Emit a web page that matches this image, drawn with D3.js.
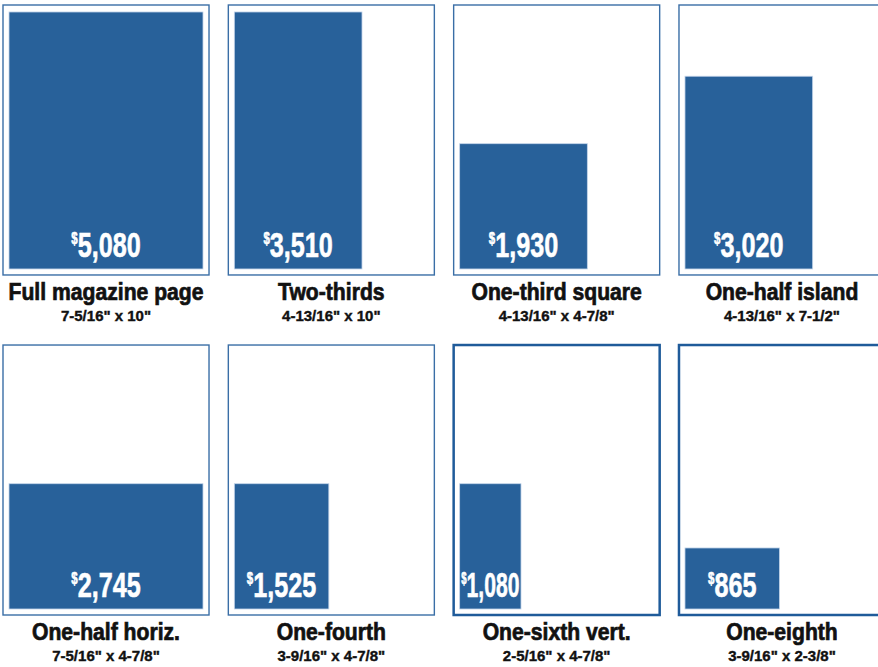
<!DOCTYPE html>
<html>
<head>
<meta charset="utf-8">
<script src="https://cdn.jsdelivr.net/npm/d3@7"></script>
<style>
  html, body { margin: 0; padding: 0; background: #fff; }
  svg { display: block; }
  .title, .dim { font-family: "Liberation Sans", Arial, sans-serif; font-weight: bold; fill: #111; stroke: #111; }
  .title { stroke-width: 0.7px; }
  .dim { stroke-width: 0.4px; }
  .price { font-family: "Liberation Sans", Arial, sans-serif; font-weight: bold; fill: #fff; stroke: #fff; stroke-width: 0.6px; }
</style>
</head>
<body>
<svg id="chart" width="878" height="667"></svg>
<script>
(function () {
  "use strict";

  // ad sizes, in reading order
  var names = ["Full magazine page", "Two-thirds", "One-third square", "One-half island",
               "One-half horiz.", "One-fourth", "One-sixth vert.", "One-eighth"];
  var dims = ["7-5/16\" x 10\"", "4-13/16\" x 10\"", "4-13/16\" x 4-7/8\"", "4-13/16\" x 7-1/2\"",
              "7-5/16\" x 4-7/8\"", "3-9/16\" x 4-7/8\"", "2-5/16\" x 4-7/8\"", "3-9/16\" x 2-3/8\""];
  var widths = [7.3125, 4.8125, 4.8125, 4.8125, 7.3125, 3.5625, 2.3125, 3.5625];   // inches
  var heights = [10, 10, 4.875, 7.5, 4.875, 4.875, 4.875, 2.375];                   // inches
  var prices = [5080, 3510, 1930, 3020, 2745, 1525, 1080, 865];
  var heavyFrame = [false, false, false, false, false, false, true, true];

  var data = names.map(function (n, i) {
    return { name: n, dim: dims[i], w: widths[i], h: heights[i], price: prices[i],
             heavy: heavyFrame[i], col: i % 4, row: Math.floor(i / 4) };
  });

  var blue = "#28619a";
  var svg = d3.select("#chart");

  // panel grid
  var col = d3.scaleBand().domain([0, 1, 2, 3]).range([3, 885]).paddingInner(0.0857).paddingOuter(0);
  var row = d3.scaleBand().domain([0, 1]).range([5, 615]).paddingInner(0.206).paddingOuter(0);

  // inches -> pixels
  var xIn = d3.scaleLinear().domain([0, 7.3125]).range([0, 194]);
  var yIn = d3.scaleLinear().domain([0, 10]).range([0, 257]);

  var fmt = d3.format(",");
  var inset = 6;

  // horizontal squeeze about a centre x
  function squeeze(sel, cx, k) {
    sel.attr("transform", "translate(" + cx + ",0) scale(" + k + ",1) translate(" + (-cx) + ",0)");
  }

  var panel = svg.selectAll("g.panel")
      .data(data)
    .enter().append("g")
      .attr("class", "panel")
      .attr("transform", function (d) { return "translate(" + col(d.col) + "," + row(d.row) + ")"; });

  var fw = col.bandwidth(), fh = row.bandwidth();

  panel.append("rect")
      .attr("class", "frame")
      .attr("x", 0)
      .attr("y", 0)
      .attr("width", fw)
      .attr("height", fh)
      .attr("fill", "#fff")
      .attr("stroke", function (d) { return d.heavy ? "#1f5b9a" : "#3a6ea6"; })
      .attr("stroke-width", function (d) { return d.heavy ? 2.5 : 1.4; });

  var barBottom = fh - inset;

  panel.append("rect")
      .attr("class", "bar")
      .attr("x", inset)
      .attr("y", function (d) { return barBottom - yIn(d.h); })
      .attr("width", function (d) { return xIn(d.w); })
      .attr("height", function (d) { return yIn(d.h); })
      .attr("fill", blue)
      .attr("stroke", "#c4d5ea")
      .attr("stroke-width", 0.8);

  // price label, centred on bar
  var price = panel.append("text")
      .attr("class", "price")
      .attr("x", function (d) { return inset + xIn(d.w) / 2; })
      .attr("y", barBottom - 12)
      .attr("text-anchor", "middle")
      .style("font-size", "35px");
  price.append("tspan")
      .style("font-size", "16px")
      .attr("dy", -12.5)
      .text("$");
  price.append("tspan")
      .attr("dy", 12.5)
      .text(function (d) { return fmt(d.price); });

  // condensed look; squeeze harder if wider than the bar
  price.each(function (d) {
    var len = this.getComputedTextLength();
    var k = Math.min(0.72, (xIn(d.w) - 3) / len);
    squeeze(d3.select(this), inset + xIn(d.w) / 2, k);
  });

  panel.append("text")
      .attr("class", "title")
      .attr("x", fw / 2)
      .attr("y", fh + 25)
      .attr("text-anchor", "middle")
      .style("font-size", "23px")
      .text(function (d) { return d.name; })
      .call(squeeze, fw / 2, 0.92);

  panel.append("text")
      .attr("class", "dim")
      .attr("x", fw / 2)
      .attr("y", fh + 46)
      .attr("text-anchor", "middle")
      .style("font-size", "15px")
      .text(function (d) { return d.dim; });
}());
</script>
</body>
</html>
